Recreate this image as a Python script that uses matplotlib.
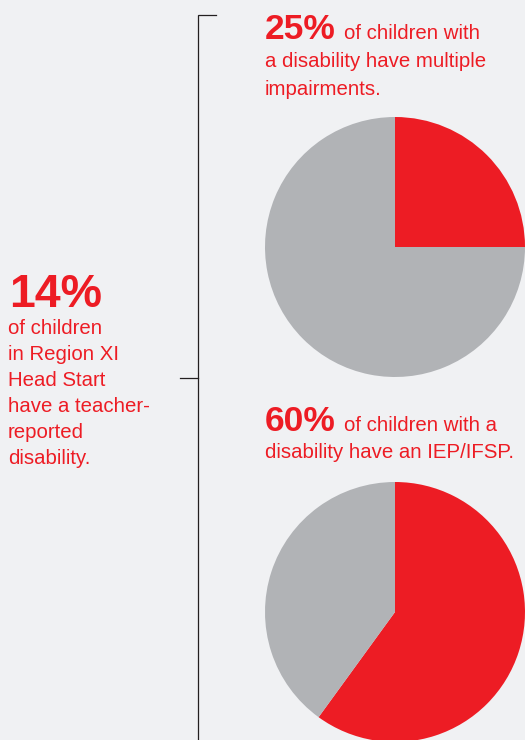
import matplotlib.pyplot as plt

# colours
red = "#ED1C24"
grey = "#B1B3B6"
bg = "#F0F1F3"
line_col = "#231F20"

# data
pie_top_values = [25, 75]
pie_bottom_values = [60, 40]
headline_pct = "14%"
headline_lines = ["of children", "in Region XI", "Head Start", "have a teacher-", "reported", "disability."]
top_pct = "25%"
top_lines = ["of children with", "a disability have multiple", "impairments."]
bottom_pct = "60%"
bottom_lines = ["of children with a", "disability have an IEP/IFSP."]

W, H = 525, 740
plt.rcParams['font.family'] = ['Liberation Sans', 'DejaVu Sans']

fig = plt.figure(figsize=(W / 100, H / 100), dpi=100, facecolor=bg)
ax = fig.add_axes([0, 0, 1, 1])
ax.set_facecolor(bg)

def Y(y):
    # image pixel row -> data y
    return H - y

# pies
ax.pie(pie_top_values, colors=[red, grey], startangle=90, counterclock=False,
       center=(395, Y(247)), radius=130, frame=True)
ax.pie(pie_bottom_values, colors=[red, grey], startangle=90, counterclock=False,
       center=(395, Y(612)), radius=130, frame=True)

# bracket
ax.plot([216, 198, 198], [Y(15), Y(15), Y(742)], color=line_col, lw=0.9,
        solid_joinstyle='miter')
ax.plot([180, 198], [Y(378), Y(378)], color=line_col, lw=0.9)

ax.set_xlim(0, W)
ax.set_ylim(0, H)
ax.set_aspect('equal')
ax.axis('off')

body_size = 14.7

# left text
ax.text(9, Y(307), headline_pct, color=red, fontsize=33.5, fontweight='bold',
        va='baseline', ha='left')
for i, s in enumerate(headline_lines):
    ax.text(8, Y(334 + 26 * i), s, color=red, fontsize=body_size,
            va='baseline', ha='left')

renderer = fig.canvas.get_renderer()

def block(x, y0, pct, lines, spacing):
    t = ax.text(x, Y(y0), pct, color=red, fontsize=25.5, fontweight='bold',
                va='baseline', ha='left')
    bb = t.get_window_extent(renderer)
    x2 = bb.x1 + 8
    ax.text(x2, Y(y0), lines[0], color=red, fontsize=body_size,
            va='baseline', ha='left')
    for i, s in enumerate(lines[1:]):
        ax.text(x, Y(y0 + spacing * (i + 1)), s, color=red, fontsize=body_size,
                va='baseline', ha='left')

block(265, 39, top_pct, top_lines, 28)
block(265, 431, bottom_pct, bottom_lines, 27)

fig.savefig("out.png", dpi=100, facecolor=bg)
